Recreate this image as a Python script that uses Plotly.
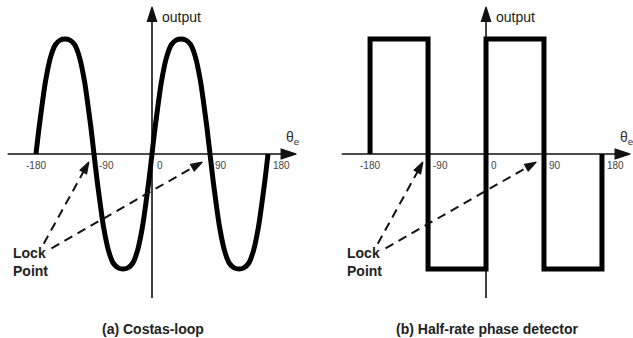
import plotly.graph_objects as go

# Phase-detector characteristics, theta_e in degrees
costas_theta = [-180, -175, -170, -165, -157.5, -150, -142.5, -135, -127.5, -120, -112.5, -105, -100, -95, -90,
                -85, -80, -75, -67.5, -60, -52.5, -45, -37.5, -30, -22.5, -15, -10, -5, 0,
                5, 10, 15, 22.5, 30, 37.5, 45, 52.5, 60, 67.5, 75, 80, 85, 90,
                95, 100, 105, 112.5, 120, 127.5, 135, 142.5, 150, 157.5, 165, 170, 175, 180]
costas_output = [0, 0.24, 0.45, 0.64, 0.84, 0.95, 0.99, 1.0, 0.99, 0.95, 0.84, 0.64, 0.45, 0.24, 0,
                 -0.24, -0.45, -0.64, -0.84, -0.95, -0.99, -1.0, -0.99, -0.95, -0.84, -0.64, -0.45, -0.24, 0,
                 0.24, 0.45, 0.64, 0.84, 0.95, 0.99, 1.0, 0.99, 0.95, 0.84, 0.64, 0.45, 0.24, 0,
                 -0.24, -0.45, -0.64, -0.84, -0.95, -0.99, -1.0, -0.99, -0.95, -0.84, -0.64, -0.45, -0.24, 0]

halfrate_theta = [-180, -180, -90, -90, 0, 0, 90, 90, 180, 180]
halfrate_output = [0, 1, 1, -1, -1, 1, 1, -1, -1, 0]

tick_values = [-180, -90, 0, 90, 180]
tick_labels = ["-180", "-90", "0", "90", "180"]

captions = ["(a) Costas-loop", "(b) Half-rate phase detector"]

# lock-point arrows: (start theta, start output) -> (tip theta, tip output)
lock_arrows = [((-168, -0.78), (-98, -0.07)), ((-156, -0.82), (78, -0.07))]

X_AXIS_EXTENT = (-224, 224)
Y_AXIS_EXTENT = (-1.252, 1.278)

FONT = "Arial, Liberation Sans, sans-serif"
INK = "#111111"

fig = go.Figure()

panels = [
    ("x", "y", costas_theta, costas_output, captions[0]),
    ("x2", "y2", halfrate_theta, halfrate_output, captions[1]),
]


def arrow_marker(size):
    # arrowhead only at the last point, pointing along the segment
    return dict(symbol="arrow", size=[0, size], angleref="previous", color=INK,
                opacity=1, line=dict(width=1.2, color=INK))


annotations = []
for xa, ya, th, out, cap in panels:
    # horizontal axis with arrow
    fig.add_trace(go.Scatter(
        x=list(X_AXIS_EXTENT), y=[0, 0], xaxis=xa, yaxis=ya,
        mode="lines+markers", line=dict(color=INK, width=1.6),
        marker=arrow_marker(16), cliponaxis=False, hoverinfo="skip"))
    # vertical axis with arrow
    fig.add_trace(go.Scatter(
        x=[0, 0], y=list(Y_AXIS_EXTENT), xaxis=xa, yaxis=ya,
        mode="lines+markers", line=dict(color=INK, width=1.6),
        marker=arrow_marker(15), cliponaxis=False, hoverinfo="skip"))
    # detector characteristic
    fig.add_trace(go.Scatter(
        x=th, y=out, xaxis=xa, yaxis=ya, mode="lines",
        line=dict(color="black", width=5, shape="spline" if xa == "x" else "linear"),
        cliponaxis=False, hoverinfo="skip"))
    # dashed lock-point arrows
    for (sx, sy), (tx, ty) in lock_arrows:
        fig.add_trace(go.Scatter(
            x=[sx, tx], y=[sy, ty], xaxis=xa, yaxis=ya,
            mode="lines+markers", line=dict(color=INK, width=2, dash="9px,6px"),
            marker=arrow_marker(12), cliponaxis=False, hoverinfo="skip"))

    # tick labels
    for i, (tv, tl) in enumerate(zip(tick_values, tick_labels)):
        annotations.append(dict(
            x=tv, y=0, xref=xa, yref=ya, text=tl, showarrow=False,
            xanchor="center" if i == 0 else "left", yanchor="top",
            xshift=0 if i == 0 else 3, yshift=-4,
            font=dict(family=FONT, size=10, color="#444444")))
    # axis titles
    annotations.append(dict(
        x=205, y=0.04, xref=xa, yref=ya, text="θ<sub>e</sub>", showarrow=False,
        xanchor="left", yanchor="bottom", font=dict(family=FONT, size=14, color="#333333")))
    annotations.append(dict(
        x=13, y=1.19, xref=xa, yref=ya, text="output", showarrow=False,
        xanchor="left", yanchor="middle", font=dict(family=FONT, size=14, color="#222222")))
    # lock point label
    annotations.append(dict(
        x=-189, y=-0.94, xref=xa, yref=ya, text="<b>Lock<br>Point</b>", showarrow=False,
        xanchor="center", yanchor="middle", align="left",
        font=dict(family=FONT, size=14, color="#222222")))
    # caption
    annotations.append(dict(
        x=2, y=-1.52, xref=xa, yref=ya, text="<b>" + cap + "</b>", showarrow=False,
        xanchor="center", yanchor="middle", font=dict(family=FONT, size=14, color="#222222")))

fig.update_layout(
    width=633, height=338,
    margin=dict(l=0, r=0, t=0, b=0),
    paper_bgcolor="white", plot_bgcolor="white",
    showlegend=False,
    xaxis=dict(domain=[0.01005, 0.47021], range=[-226, 226], visible=False),
    yaxis=dict(domain=[0, 1], range=[-1.6, 1.339], visible=False, anchor="x"),
    xaxis2=dict(domain=[0.5378, 0.99779], range=[-226, 226], visible=False),
    yaxis2=dict(domain=[0, 1], range=[-1.6, 1.339], visible=False, anchor="x2"),
    annotations=annotations,
)

fig.write_html("out.html")
